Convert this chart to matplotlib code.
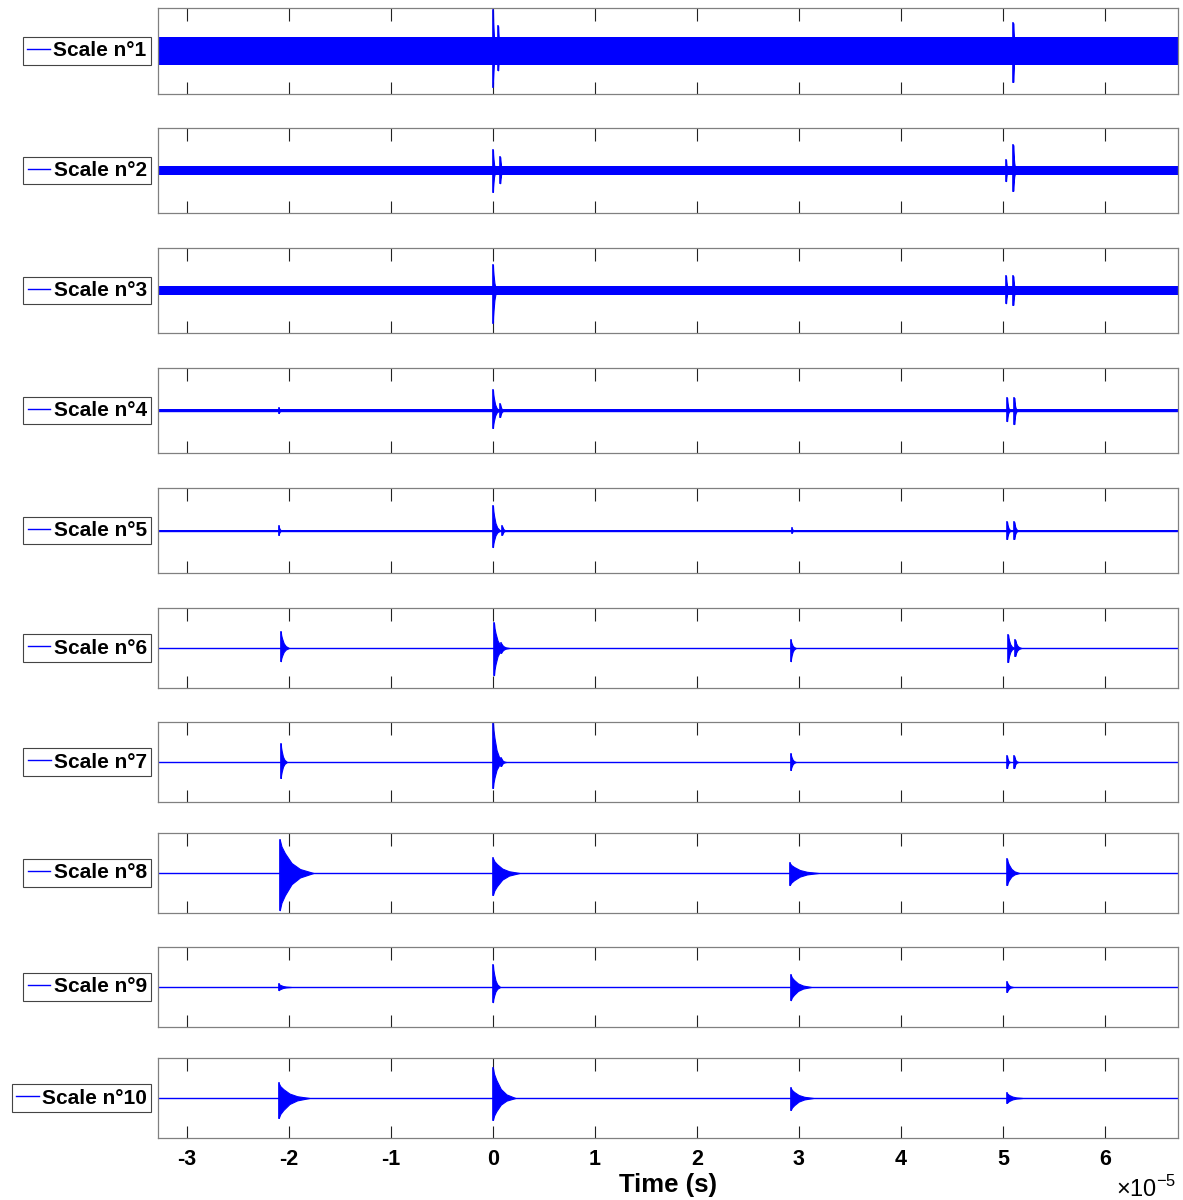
import matplotlib.pyplot as plt
from matplotlib.ticker import FuncFormatter
import numpy as np

plt.rcParams['font.family'] = ['Liberation Sans', 'DejaVu Sans']
plt.rcParams['axes.unicode_minus'] = False
plt.rcParams['mathtext.fontset'] = 'custom'
plt.rcParams['mathtext.rm'] = 'Liberation Sans'

# ---- data ----
# times in units of 1e-5 s, amplitudes relative to each panel's half-height
scale_labels = ['Scale n°1', 'Scale n°2', 'Scale n°3', 'Scale n°4', 'Scale n°5',
                'Scale n°6', 'Scale n°7', 'Scale n°8', 'Scale n°9', 'Scale n°10']
noise_level = [0.33, 0.10, 0.10, 0.03, 0.015, 0.01, 0.01, 0.01, 0.01, 0.01]

burst_scale = [1, 1, 1,
               2, 2, 2, 2,
               3, 3, 3,
               4, 4, 4, 4, 4,
               5, 5, 5, 5, 5, 5,
               6, 6, 6, 6, 6, 6,
               7, 7, 7, 7, 7, 7,
               8, 8, 8, 8,
               9, 9, 9, 9,
               10, 10, 10, 10]
burst_time = [0.0, 0.05, 5.10,
              0.0, 0.07, 5.03, 5.10,
              0.0, 5.03, 5.10,
              -2.10, 0.0, 0.07, 5.04, 5.11,
              -2.10, 0.0, 0.09, 2.93, 5.04, 5.11,
              -2.08, 0.01, 0.08, 2.92, 5.05, 5.12,
              -2.08, 0.0, 0.08, 2.92, 5.04, 5.11,
              -2.09, 0.0, 2.91, 5.04,
              -2.10, 0.0, 2.92, 5.04,
              -2.10, 0.0, 2.92, 5.04]
burst_top = [0.95, 0.58, 0.65,
             0.48, 0.32, 0.25, 0.60,
             0.60, 0.34, 0.34,
             0.06, 0.48, 0.15, 0.30, 0.30,
             0.10, 0.58, 0.10, 0.05, 0.20, 0.20,
             0.40, 0.62, 0.12, 0.20, 0.33, 0.20,
             0.45, 1.00, 0.10, 0.20, 0.15, 0.15,
             0.83, 0.37, 0.25, 0.35,
             0.08, 0.55, 0.30, 0.12,
             0.37, 0.75, 0.25, 0.12]
burst_bottom = [-0.84, -0.45, -0.72,
                -0.50, -0.30, -0.25, -0.48,
                -0.76, -0.30, -0.34,
                -0.06, -0.41, -0.15, -0.25, -0.32,
                -0.10, -0.39, -0.10, -0.05, -0.20, -0.20,
                -0.33, -0.68, -0.12, -0.33, -0.35, -0.20,
                -0.40, -0.65, -0.10, -0.20, -0.15, -0.15,
                -0.93, -0.55, -0.30, -0.30,
                -0.08, -0.38, -0.33, -0.12,
                -0.50, -0.55, -0.30, -0.12]
burst_length = [0.03, 0.03, 0.03,
                0.03, 0.03, 0.02, 0.03,
                0.04, 0.03, 0.03,
                0.03, 0.06, 0.04, 0.03, 0.03,
                0.03, 0.07, 0.04, 0.03, 0.04, 0.04,
                0.08, 0.10, 0.08, 0.05, 0.06, 0.06,
                0.06, 0.10, 0.05, 0.05, 0.03, 0.04,
                0.33, 0.26, 0.28, 0.12,
                0.12, 0.07, 0.20, 0.06,
                0.30, 0.22, 0.22, 0.15]
x_ticks = [-3, -2, -1, 0, 1, 2, 3, 4, 5, 6]

# ---- layout (pixels of the 1183x1200 figure) ----
W, H = 1183, 1200
panel_top = [8, 128, 248, 368, 488, 608, 722, 833, 947, 1058]
panel_bot = [94, 213, 333, 453, 573, 688, 802, 913, 1027, 1138]
left_px, right_px = 158, 1178
xlim = (-3.284e-5, 6.716e-5)
blue = (0, 0, 1)

# envelope shape of one burst (fraction of length, fraction of amplitude)
env_f = np.array([0.0, 0.05, 0.15, 0.35, 0.6, 1.0])
env_g = np.array([1.0, 0.8, 0.6, 0.3, 0.12, 0.0])

fig = plt.figure(figsize=(W / 100, H / 100), dpi=100)
axes = []
for i in range(10):
    ax = fig.add_axes([left_px / W, 1 - panel_bot[i] / H,
                       (right_px - left_px) / W, (panel_bot[i] - panel_top[i]) / H])
    axes.append(ax)

    line, = ax.plot(xlim, [0, 0], color=blue, lw=1.0, label=scale_labels[i])
    n = noise_level[i]
    ax.fill_between(xlim, -n, n, color=blue, lw=0)

    for s, t, top, bot, L in zip(burst_scale, burst_time, burst_top,
                                 burst_bottom, burst_length):
        if s != i + 1:
            continue
        xs = (t + env_f * L) * 1e-5
        ax.fill_between(xs, bot * env_g, top * env_g, color=blue, lw=0.8)
        ax.plot([t * 1e-5, t * 1e-5], [bot, top], color=blue, lw=1.2)

    ax.set_xlim(xlim)
    ax.set_ylim(-1, 1)
    ax.set_yticks([])
    ax.set_xticks(np.array(x_ticks) * 1e-5)
    ax.xaxis.set_major_formatter(FuncFormatter(lambda v, p: '%d' % round(v * 1e5)))
    ax.tick_params(axis='x', direction='in', top=True, bottom=True, length=9,
                   width=0.8, color='#222222', labelbottom=(i == 9),
                   labelsize=15.5, pad=8)
    for sp in ax.spines.values():
        sp.set_color('#808080')
        sp.set_linewidth(0.9)

    leg = ax.legend(handles=[line], loc='center right', bbox_to_anchor=(-0.007, 0.5),
                    prop={'weight': 'bold', 'size': 15}, handlelength=1.1,
                    handletextpad=0.15, borderpad=0.2, borderaxespad=0,
                    fancybox=False, framealpha=1, edgecolor='#444444')
    leg.get_frame().set_linewidth(0.8)

ax = axes[-1]
for lab in ax.get_xticklabels():
    lab.set_fontweight('bold')
ax.set_xlabel('Time (s)', fontsize=18.5, fontweight='bold', labelpad=2)
fig.text(1176 / W, 1 - 1189 / H, r'$\times 10^{-5}$', fontsize=17,
         ha='right', va='center')

fig.savefig('out.png', dpi=100)
